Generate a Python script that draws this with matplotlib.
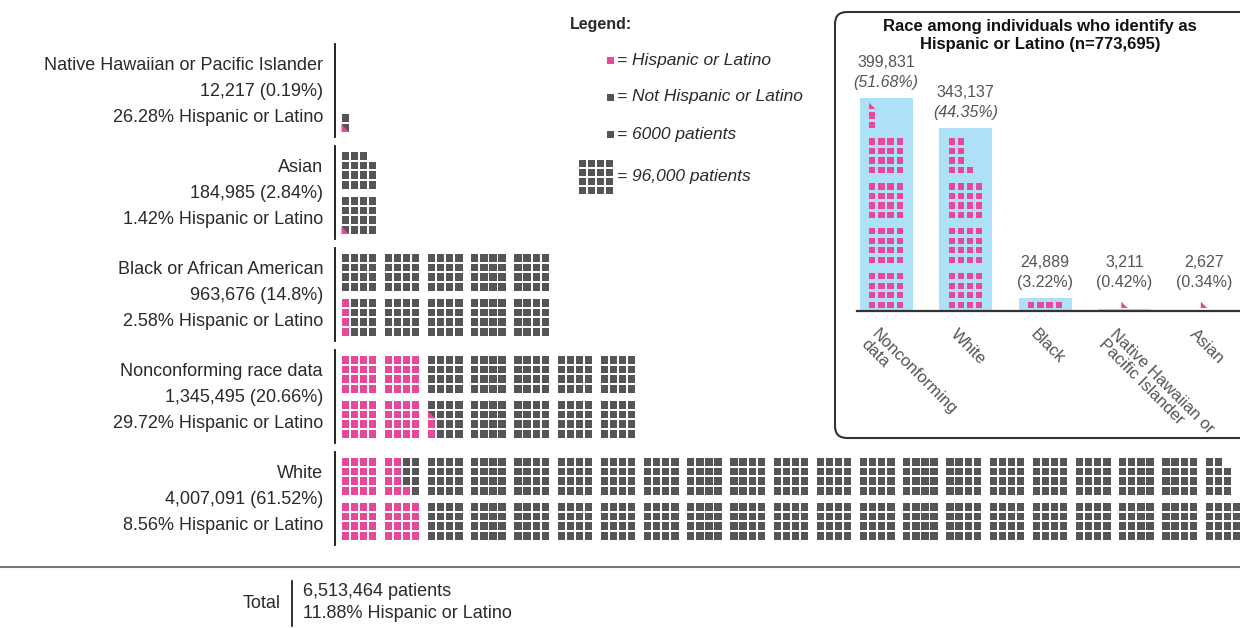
import matplotlib
matplotlib.use('Agg')
import matplotlib.pyplot as plt
import matplotlib.patches as patches

plt.rcParams['font.family'] = ['Liberation Sans', 'DejaVu Sans']

# Data
categories = ['Native Hawaiian or Pacific Islander', 'Asian', 'Black or African American',
              'Nonconforming race data', 'White']
patients = [12217, 184985, 963676, 1345495, 4007091]
share_of_total = [0.19, 2.84, 14.8, 20.66, 61.52]
hispanic_pct = [26.28, 1.42, 2.58, 29.72, 8.56]
hispanic_patients = [3211, 2627, 24889, 399831, 343137]

total_patients = 6513464
total_hispanic_pct = 11.88

inset_labels = ['Nonconforming\ndata', 'White', 'Black', 'Native Hawaiian or\nPacific Islander', 'Asian']
inset_values = [399831, 343137, 24889, 3211, 2627]
inset_pct = [51.68, 44.35, 3.22, 0.42, 0.34]
hispanic_total = 773695

PER_SQUARE = 6000

PINK = '#e8489a'
GRAY = '#555555'
BLUE = '#aee0f8'
TEXT = '#2a2a2a'
LIGHT_TEXT = '#555555'

W, H = 1240, 628


def square_counts(hisp, total):
    pink = hisp / PER_SQUARE
    full = int(pink)
    partial = pink - full >= 0.25
    gray = int((total - hisp) / PER_SQUARE)
    return full, partial, gray


fig = plt.figure(figsize=(W / 100, H / 100), dpi=100)
ax = fig.add_axes((0, 0, 1, 1))
ax.set_xlim(0, W)
ax.set_ylim(H, 0)
ax.axis('off')

# Main waffle: one square = 6000 patients, blocks of 4x4
X0, BASE0, ROW_STEP = 341.5, 132, 102
SQ_W, SQ_H = 7.3, 7.8
DX, DY = 9.1, 9.8
BLOCK_DX, BLOCK_DY = 43.2, 45


def waffle_cell(idx, base):
    block, j = divmod(idx, 16)
    col, vert = divmod(block, 2)
    c, r = divmod(j, 4)
    x = X0 + col * BLOCK_DX + c * DX
    yb = base - vert * BLOCK_DY - r * DY
    return x, yb


for k, name in enumerate(categories):
    base = BASE0 + k * ROW_STEP
    full, partial, gray = square_counts(hispanic_patients[k], patients[k])
    idx = 0
    for _ in range(full):
        x, yb = waffle_cell(idx, base)
        ax.add_patch(patches.Rectangle((x, yb - SQ_H), SQ_W, SQ_H, color=PINK, lw=0))
        idx += 1
    if partial:
        x, yb = waffle_cell(idx, base)
        ax.add_patch(patches.Rectangle((x, yb - SQ_H), SQ_W, SQ_H, color=GRAY, lw=0))
        ax.add_patch(patches.Polygon([(x, yb), (x + SQ_W, yb), (x, yb - SQ_H)], closed=True,
                                     color=PINK, lw=0))
        idx += 1
    for _ in range(gray):
        x, yb = waffle_cell(idx, base)
        ax.add_patch(patches.Rectangle((x, yb - SQ_H), SQ_W, SQ_H, color=GRAY, lw=0))
        idx += 1

    # axis line + labels
    ax.plot([335, 335], [base - 88, base + 5], color='#111111', lw=1.3)
    lines = [name,
             f'{patients[k]:,} ({share_of_total[k]:g}%)',
             f'{hispanic_pct[k]:.2f}% Hispanic or Latino']
    for i, line in enumerate(lines):
        ax.text(323, base - 40 + (i - 1) * 26, line, ha='right', va='center',
                fontsize=13, color=TEXT)

# Total
ax.plot([0, W], [567, 567], color='#777777', lw=1.5)
ax.text(281, 604, 'Total', ha='right', va='center', fontsize=13, color=TEXT)
ax.plot([292, 292], [581, 626], color='#111111', lw=1.2)
ax.text(303, 592, f'{total_patients:,} patients', ha='left', va='center', fontsize=13, color=TEXT)
ax.text(303, 614, f'{total_hispanic_pct:.2f}% Hispanic or Latino', ha='left', va='center',
        fontsize=13, color=TEXT)

# Legend
ax.text(570, 25, 'Legend:', ha='left', va='center', fontsize=11.5, fontweight='bold', color=TEXT)
legend_items = [(PINK, '= Hispanic or Latino', 60), (GRAY, '= Not Hispanic or Latino', 97),
                (GRAY, '= 6000 patients', 134)]
for col, label, y in legend_items:
    ax.add_patch(patches.Rectangle((607, y - 3), 6.5, 6.5, color=col, lw=0))
    ax.text(617, y, label, ha='left', va='center', fontsize=12.5, style='italic', color=TEXT)
for c in range(4):
    for r in range(4):
        ax.add_patch(patches.Rectangle((579 + c * 9, 160 + r * 9), 6.8, 6.8, color=GRAY, lw=0))
ax.text(617, 177, '= 96,000 patients', ha='left', va='center', fontsize=12.5, style='italic', color=TEXT)

# Inset box
ax.add_patch(patches.FancyBboxPatch((835, 12), 420, 426, boxstyle='round,pad=0,rounding_size=12',
                                    fc='none', ec='#333333', lw=1.5))
ax.text(1040, 26, 'Race among individuals who identify as', ha='center', va='center',
        fontsize=12, fontweight='bold', color='#111111')
ax.text(1040, 45, f'Hispanic or Latino (n={hispanic_total:,})', ha='center', va='center',
        fontsize=12, fontweight='bold', color='#111111')

# Inset bar chart
BAR_PITCH = 79.5
BASE_PX, TOP_PX, LEFT_PX = 311, 98, 857
ins = fig.add_axes((LEFT_PX / W, (H - BASE_PX) / H, (W - LEFT_PX) / W, (BASE_PX - TOP_PX) / H))
ins.patch.set_alpha(0)
ymax = max(inset_values)
ins.set_xlim((LEFT_PX - 886) / BAR_PITCH, (W - 886) / BAR_PITCH)
ins.set_ylim(0, ymax)
for s in ['top', 'right', 'left']:
    ins.spines[s].set_visible(False)
ins.spines['bottom'].set_color('#333333')
ins.spines['bottom'].set_linewidth(1.6)
ins.spines['bottom'].set_zorder(4)
ins.set_xticks([])
ins.set_yticks([])

xs = list(range(len(inset_values)))
ins.bar(xs, inset_values, width=53 / BAR_PITCH, color=BLUE, zorder=1)

ux = 1 / BAR_PITCH
uy = ymax / (BASE_PX - TOP_PX)
ISQ = 6.3


def inset_cell(i, idx, row_major):
    block, j = divmod(idx, 16)
    if row_major:
        r, c = divmod(j, 4)
    else:
        c, r = divmod(j, 4)
    x_px = -16.95 + c * 9.2
    y_px = 3 + block * 45 + r * 9.5
    return i + x_px * ux, y_px * uy


for i, v in enumerate(inset_values):
    full, partial, _ = square_counts(v, v)
    # short bars (less than one block) are laid out along a row
    row_major = full < 16
    for idx in range(full):
        x, y = inset_cell(i, idx, row_major)
        ins.add_patch(patches.Rectangle((x, y), ISQ * ux, ISQ * uy, color=PINK, lw=0, zorder=2))
    if partial:
        x, y = inset_cell(i, full, row_major)
        if full == 0:
            x = i - ISQ / 2 * ux
        ins.add_patch(patches.Polygon([(x, y), (x + ISQ * ux, y), (x, y + ISQ * uy)], closed=True,
                                      color=PINK, lw=0, zorder=2))

    label_y = max(v, 25000)
    ital = 'italic' if v > 100000 else 'normal'
    ins.annotate(f'({inset_pct[i]:.2f}%)', xy=(i, label_y), xytext=(0, 11), textcoords='offset points',
                 ha='center', va='center', fontsize=11.5, style=ital, color=LIGHT_TEXT,
                 annotation_clip=False)
    ins.annotate(f'{v:,}', xy=(i, label_y), xytext=(0, 25.5), textcoords='offset points',
                 ha='center', va='center', fontsize=11.5, color=LIGHT_TEXT, annotation_clip=False)
    ins.annotate(inset_labels[i], xy=(i, 0), xytext=(-5, -11), textcoords='offset points',
                 ha='left', va='top', rotation=-45, rotation_mode='anchor', fontsize=12,
                 color=LIGHT_TEXT, annotation_clip=False, linespacing=1.0)

fig.savefig('out.png', dpi=100)
